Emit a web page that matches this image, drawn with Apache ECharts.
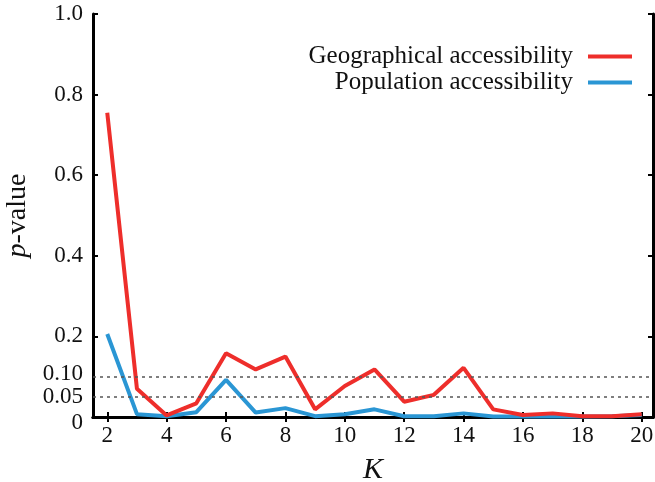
<!DOCTYPE html>
<html>
<head>
<meta charset="utf-8">
<script src="https://cdn.jsdelivr.net/npm/echarts@6/dist/echarts.min.js"></script>
<style>
html,body{margin:0;padding:0;background:#fff;}
#chart{width:655px;height:482px;}
</style>
</head>
<body>
<div id="chart"></div>
<script>
const K = [2,3,4,5,6,7,8,9,10,11,12,13,14,15,16,17,18,19,20];
const geographical = [0.755,0.070,0.004,0.034,0.158,0.118,0.150,0.019,0.077,0.118,0.038,0.055,0.122,0.019,0.005,0.009,0.002,0.002,0.007];
const population = [0.206,0.007,0.002,0.012,0.092,0.011,0.022,0.002,0.007,0.019,0.002,0.002,0.009,0.001,0.001,0.001,0.001,0.002,0.005];
const xTicks = [2,4,6,8,10,12,14,16,18,20];
const yLabels = [0,0.05,0.1,0.2,0.4,0.6,0.8,1.0];
const yTicks = [0,0.2,0.4,0.6,0.8,1.0];
const thresholds = [0.05,0.1];
const seriesNames = ['Geographical accessibility','Population accessibility'];

const FONT = 'Liberation Serif';
const chart = echarts.init(document.getElementById('chart'), null, {renderer:'canvas'});
const pair = arr => K.map((k,i)=>[k,arr[i]]);
const axisLine = {show:true, lineStyle:{color:'#000', width:3}};
const fmtY = v => v === 0 ? '{z|0}' : (Math.abs(v-0.05)<1e-9 ? '0.05' : (Math.abs(v-0.1)<1e-9 ? '{t|0.10}' : v.toFixed(1)));

chart.setOption({
  animation:false,
  backgroundColor:'#fff',
  grid:{left:93, right:2, top:14, bottom:65, containLabel:false, outerBoundsMode:'none'},
  legend:{
    orient:'vertical', right:18, top:39, align:'right',
    itemWidth:44, itemHeight:4, itemGap:1, icon:'rect',
    textStyle:{fontFamily:FONT, fontSize:25, color:'#111', padding:[0,10,0,0]},
    data:seriesNames
  },
  xAxis:[{
    type:'value', min:1.52, max:20.38, position:'bottom',
    name:'K', nameLocation:'middle', nameGap:38,
    nameTextStyle:{fontFamily:FONT, fontStyle:'italic', fontSize:30, color:'#111'},
    axisLine:axisLine,
    axisTick:{show:true, inside:true, length:5, customValues:xTicks, lineStyle:{color:'#000', width:2}},
    axisLabel:{customValues:xTicks, showMinLabel:true, showMaxLabel:true, hideOverlap:false, fontFamily:FONT, fontSize:23, color:'#111', margin:7},
    splitLine:{show:false}
  },{
    type:'value', min:1.52, max:20.38, position:'top',
    axisLine:axisLine,
    axisTick:{show:true, inside:true, length:5, customValues:xTicks, lineStyle:{color:'#000', width:2}},
    axisLabel:{show:false},
    splitLine:{show:false}
  }],
  yAxis:[{
    type:'value', min:0, max:1, position:'left',
    name:'{i|p}-value', nameLocation:'middle', nameGap:57, nameRotate:90,
    nameTextStyle:{fontFamily:FONT, fontSize:28, color:'#111',
      rich:{i:{fontFamily:FONT, fontSize:28, fontStyle:'italic', color:'#111'}}},
    axisLine:axisLine,
    axisTick:{show:true, inside:true, length:5, customValues:yTicks, lineStyle:{color:'#000', width:2}},
    axisLabel:{customValues:yLabels, formatter:fmtY, showMinLabel:true, showMaxLabel:true, hideOverlap:false,
      fontFamily:FONT, fontSize:23, color:'#111', margin:10,
      rich:{
        z:{fontFamily:FONT, fontSize:23, color:'#111', padding:[11,0,0,0]},
        t:{fontFamily:FONT, fontSize:23, color:'#111', padding:[0,0,5,0]}
      }},
    splitLine:{show:false}
  },{
    type:'value', min:0, max:1, position:'right',
    axisLine:axisLine,
    axisTick:{show:true, inside:true, length:5, customValues:yTicks, lineStyle:{color:'#000', width:2}},
    axisLabel:{show:false},
    splitLine:{show:false}
  }],
  series:[{
    name:seriesNames[0], type:'line', data:pair(geographical),
    showSymbol:false, symbol:'none',
    lineStyle:{color:'#ee2e2b', width:4},
    itemStyle:{color:'#ee2e2b'},
    markLine:{
      silent:true, symbol:'none', label:{show:false},
      lineStyle:{color:'#555', type:[3,4], width:1.5},
      data:thresholds.map(t=>({yAxis:t}))
    },
    z:3
  },{
    name:seriesNames[1], type:'line', data:pair(population),
    showSymbol:false, symbol:'none',
    lineStyle:{color:'#2a96d4', width:4},
    itemStyle:{color:'#2a96d4'},
    z:2
  }]
});
</script>
</body>
</html>
